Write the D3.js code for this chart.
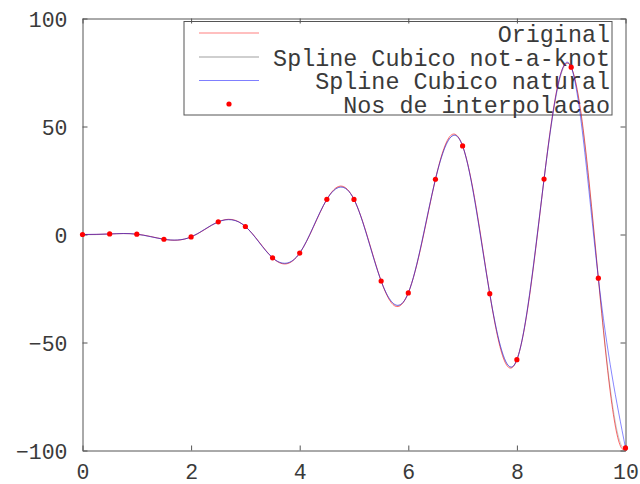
<!DOCTYPE html>
<html>
<head>
<meta charset="utf-8">
<script src="https://cdn.jsdelivr.net/npm/d3@7"></script>
<style>
  html, body { margin: 0; padding: 0; background: #fff; }
  svg { display: block; }
  text { font-family: "Liberation Mono", "Courier New", monospace; }
</style>
</head>
<body>
<svg id="chart" width="640" height="484"></svg>
<script>
// Interpolation nodes (x = 0, 0.5, ..., 10)
const nodeX = [0, 0.5, 1, 1.5, 2, 2.5, 3, 3.5, 4, 4.5, 5, 5.5, 6, 6.5, 7, 7.5, 8, 8.5, 9, 9.5, 10];
const nodeY = [0, 0.25, 0.14, -2.2, -1.12, 5.86, 3.71, -10.78, -8.59, 16.28, 16.26, -21.53,
               -27.04, 25.58, 41.0, -27.4, -57.96, 25.64, 77.47, -20.2, -98.8];

// Original function, sampled every 0.25
const origX = [0, 0.25, 0.5, 0.75, 1, 1.25, 1.5, 1.75, 2, 2.25, 2.5, 2.75, 3, 3.25, 3.5, 3.75, 4,
               4.25, 4.5, 4.75, 5, 5.25, 5.5, 5.75, 6, 6.25, 6.5, 6.75, 7, 7.25, 7.5, 7.75, 8,
               8.25, 8.5, 8.75, 9, 9.25, 9.5, 9.75, 10];
const origY = [0, 0.04, 0.25, 0.44, 0.14, -0.89, -2.2, -2.63, -1.12, 2.28, 5.86, 6.95, 3.71, -3.38,
               -10.78, -13.61, -8.59, 3.31, 16.28, 22.42, 16.26, -1.17, -21.53, -33.05, -27.04,
               -3.89, 25.58, 44.9, 41.0, 12.57, -27.4, -57.15, -57.96, -25.43, 25.64, 68.82,
               77.47, 42.83, -20.2, -78.72, -98.8];

const xTicks = [0, 2, 4, 6, 8, 10];
const yTicks = [-100, -50, 0, 50, 100];
const legendLabels = ["Original", "Spline Cubico not-a-knot", "Spline Cubico natural", "Nos de interpolacao"];

const W = 640, H = 484;
const plot = { left: 82.5, right: 625.5, top: 18.5, bottom: 450.5 };

const svg = d3.select("#chart");
svg.append("rect").attr("width", W).attr("height", H).attr("fill", "#fff");

const x = d3.scaleLinear().domain([0, 10]).range([plot.left, plot.right]);
const y = d3.scaleLinear().domain([-100, 100]).range([plot.bottom, plot.top]);

// Cubic spline with not-a-knot end conditions, as a d3 curve factory
function splineControls(v) {
  const n = v.length - 1;
  const A = [], b = [];
  for (let i = 0; i <= n; i++) { A.push(new Array(n + 1).fill(0)); b.push(0); }
  A[0][0] = 1; A[0][1] = -2; A[0][2] = 1;
  for (let i = 1; i < n; i++) {
    A[i][i - 1] = 1; A[i][i] = 4; A[i][i + 1] = 1;
    b[i] = 6 * (v[i - 1] - 2 * v[i] + v[i + 1]);
  }
  A[n][n - 2] = 1; A[n][n - 1] = -2; A[n][n] = 1;
  // Gaussian elimination with partial pivoting
  for (let c = 0; c <= n; c++) {
    let p = c;
    for (let r = c + 1; r <= n; r++) if (Math.abs(A[r][c]) > Math.abs(A[p][c])) p = r;
    [A[c], A[p]] = [A[p], A[c]]; [b[c], b[p]] = [b[p], b[c]];
    for (let r = c + 1; r <= n; r++) {
      const f = A[r][c] / A[c][c];
      if (!f) continue;
      for (let k = c; k <= n; k++) A[r][k] -= f * A[c][k];
      b[r] -= f * b[c];
    }
  }
  const M = new Array(n + 1).fill(0);
  for (let r = n; r >= 0; r--) {
    let s = b[r];
    for (let k = r + 1; k <= n; k++) s -= A[r][k] * M[k];
    M[r] = s / A[r][r];
  }
  const c1 = [], c2 = [];
  for (let i = 0; i < n; i++) {
    const d = v[i + 1] - v[i];
    const s0 = d - (2 * M[i] + M[i + 1]) / 6;
    const s1 = d + (M[i] + 2 * M[i + 1]) / 6;
    c1.push(v[i] + s0 / 3);
    c2.push(v[i + 1] - s1 / 3);
  }
  return [c1, c2];
}

function NotAKnot(context) { this._context = context; }
NotAKnot.prototype = {
  areaStart() {}, areaEnd() {},
  lineStart() { this._x = []; this._y = []; },
  point(px, py) { this._x.push(+px); this._y.push(+py); },
  lineEnd() {
    const xs = this._x, ys = this._y, n = xs.length, ctx = this._context;
    if (!n) return;
    ctx.moveTo(xs[0], ys[0]);
    if (n < 4) {
      for (let i = 1; i < n; i++) ctx.lineTo(xs[i], ys[i]);
    } else {
      const cx = splineControls(xs), cy = splineControls(ys);
      for (let i = 0; i < n - 1; i++) {
        ctx.bezierCurveTo(cx[0][i], cy[0][i], cx[1][i], cy[1][i], xs[i + 1], ys[i + 1]);
      }
    }
  }
};
const curveNotAKnot = context => new NotAKnot(context);

const axisColor = "#555";
const textColor = "#3a3a3a";
const colors = { orig: "#ff0000", nak: "#404040", nat: "#0000ff", node: "#ff0000" };

// Frame with inward ticks on all four sides
const gAxes = svg.append("g");
function styleAxis(g) {
  g.select(".domain").attr("stroke", axisColor).attr("stroke-width", 1);
  g.selectAll(".tick line").attr("stroke", axisColor).attr("stroke-width", 1);
  g.selectAll(".tick text").attr("fill", textColor).attr("font-size", 21.5)
    .attr("font-family", "Liberation Mono, Courier New, monospace");
}
gAxes.append("g").attr("transform", `translate(0,${plot.bottom})`)
  .call(d3.axisBottom(x).tickValues(xTicks).tickSizeInner(-5).tickSizeOuter(0).tickPadding(0))
  .call(styleAxis)
  .call(g => g.selectAll(".tick text").attr("y", 28.5).attr("dy", 0));
gAxes.append("g").attr("transform", `translate(0,${plot.top})`)
  .call(d3.axisTop(x).tickValues(xTicks).tickSizeInner(-5).tickSizeOuter(0).tickFormat(""))
  .call(styleAxis);
gAxes.append("g").attr("transform", `translate(${plot.left},0)`)
  .call(d3.axisLeft(y).tickValues(yTicks).tickSizeInner(-5).tickSizeOuter(0).tickPadding(15))
  .call(styleAxis)
  .call(g => g.selectAll(".tick text").attr("dy", "0.36em"));
gAxes.append("g").attr("transform", `translate(${plot.right},0)`)
  .call(d3.axisRight(y).tickValues(yTicks).tickSizeInner(-5).tickSizeOuter(0).tickFormat(""))
  .call(styleAxis);

// Legend (unfilled box; the data is drawn over it)
const legend = svg.append("g");
legend.append("rect")
  .attr("x", 184).attr("y", 21.5).attr("width", 428).attr("height", 93.5)
  .attr("fill", "none").attr("stroke", axisColor).attr("stroke-width", 1);
const rows = [33, 57, 80.5, 104];
const sampleStyles = [
  { c: colors.orig, o: 0.5 },
  { c: colors.nak, o: 0.5 },
  { c: colors.nat, o: 0.5 }
];
sampleStyles.forEach((s, i) => {
  legend.append("line").attr("x1", 199).attr("x2", 259).attr("y1", rows[i]).attr("y2", rows[i])
    .attr("stroke", s.c).attr("stroke-width", 1).attr("stroke-opacity", s.o);
});
legend.append("circle").attr("cx", 229).attr("cy", rows[3]).attr("r", 2.6).attr("fill", colors.node);
legend.selectAll("text.lab").data(legendLabels).join("text")
  .attr("class", "lab")
  .attr("x", 610).attr("y", (d, i) => rows[i] + 8.5)
  .attr("text-anchor", "end")
  .attr("font-size", 23.4)
  .attr("fill", textColor)
  .text(d => d);

// Curves
const gData = svg.append("g");
const origPts = origX.map((v, i) => [v, origY[i]]);
const nodePts = nodeX.map((v, i) => [v, nodeY[i]]);

const lineNAK = d3.line().x(d => x(d[0])).y(d => y(d[1])).curve(curveNotAKnot);
const lineNat = d3.line().x(d => x(d[0])).y(d => y(d[1])).curve(d3.curveNatural);

gData.append("path").datum(origPts).attr("d", lineNAK)
  .attr("fill", "none").attr("stroke", colors.orig).attr("stroke-width", 0.8).attr("stroke-opacity", 0.75);
gData.append("path").datum(nodePts).attr("d", lineNAK)
  .attr("fill", "none").attr("stroke", colors.nak).attr("stroke-width", 0.8).attr("stroke-opacity", 0.35);
gData.append("path").datum(nodePts).attr("d", lineNat)
  .attr("fill", "none").attr("stroke", colors.nat).attr("stroke-width", 0.8).attr("stroke-opacity", 0.6);

gData.selectAll("circle.node").data(nodePts).join("circle")
  .attr("class", "node")
  .attr("cx", d => x(d[0])).attr("cy", d => y(d[1])).attr("r", 2.6)
  .attr("fill", colors.node);
</script>
</body>
</html>
